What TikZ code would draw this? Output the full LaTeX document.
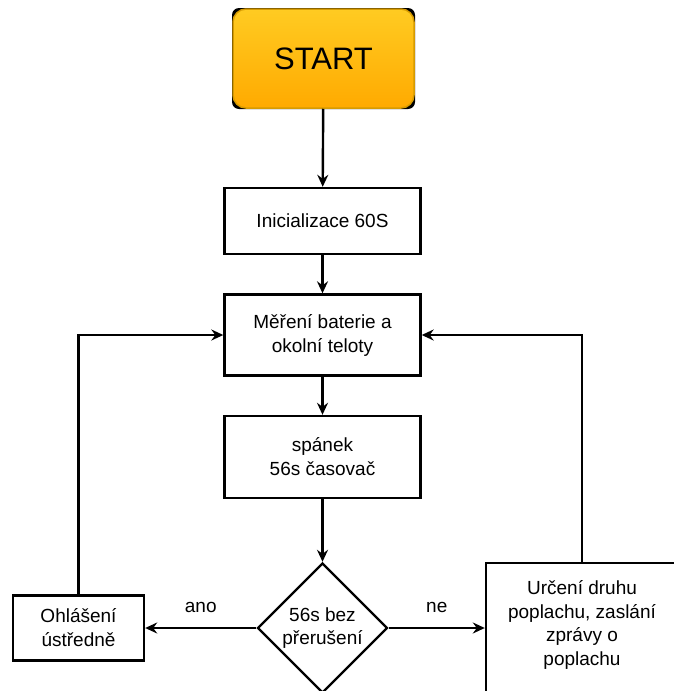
\documentclass[tikz,border=0pt]{standalone}
\usepackage{fontspec}
\setmainfont{Liberation Sans}
\usetikzlibrary{arrows.meta,shapes.geometric}
\definecolor{startTop}{HTML}{FFCB22}
\definecolor{startBot}{HTML}{FFAA00}
\definecolor{startLine}{HTML}{D79B00}
\begin{document}
\begin{tikzpicture}[x=1pt,y=-1pt,
  box/.style={draw=black, line width=2.4pt, fill=white, rectangle, inner sep=2pt,
    align=center, font=\fontsize{19}{24}\selectfont},
  txt/.style={align=center, inner sep=0pt, font=\fontsize{19}{23.5}\selectfont},
  conn/.style={draw=black, line width=2.4pt, -{Stealth[length=12pt,width=11pt,inset=4pt]}},
  lbl/.style={inner sep=0pt, font=\fontsize{19}{22}\selectfont}
]
\useasboundingbox (0,0) rectangle (673,691);
% START
\fill[black, rounded corners=7pt] (232,8) rectangle (415,109);
\node[rectangle, rounded corners=13pt, draw=startLine, line width=1.5pt,
  top color=startTop, bottom color=startBot,
  minimum width=181, minimum height=99, inner sep=0pt,
  font=\fontsize{31}{36}\selectfont] (start) at (323.5,58.5) {START};
% boxes
\node[box, minimum width=196, minimum height=66] (init) at (322.5,221) {Inicializace 60S};
\node[box, minimum width=196, minimum height=81] (mer) at (322.5,335) {Měření baterie a\\okolní teloty};
\node[box, minimum width=196, minimum height=82] (spa) at (322.5,457) {spánek\\56s časovač};
\node[box, diamond, minimum width=130, minimum height=130, inner sep=0pt] (dec) at (322.5,628) {};
\node[txt] (dectext) at (322.5,628) {56s bez\\přerušení};
\node[box, minimum width=131, minimum height=65] (ohl) at (78.5,628) {Ohlášení\\ústředně};
\node[box, minimum width=192, minimum height=150, anchor=north] (alarm) at (582,562) {};
\node[txt] (alarmtext) at (582,625) {Určení druhu\\poplachu, zaslání\\zprávy o\\poplachu};
% connectors
\draw[conn] (start) -- (init);
\draw[conn] (init) -- (mer);
\draw[conn] (mer) -- (spa);
\draw[conn] (spa) -- (dec);
\draw[conn] (dec.west) -- node[lbl, above=14pt] (ano) {ano} (ohl.east);
\draw[conn] (dec.east) -- node[lbl, above=14pt] (ne) {ne} (alarm.west |- dec.east);
\draw[conn] (ohl.north) |- (mer.west);
\draw[conn] (alarm.north) |- (mer.east);
\end{tikzpicture}
\end{document}
